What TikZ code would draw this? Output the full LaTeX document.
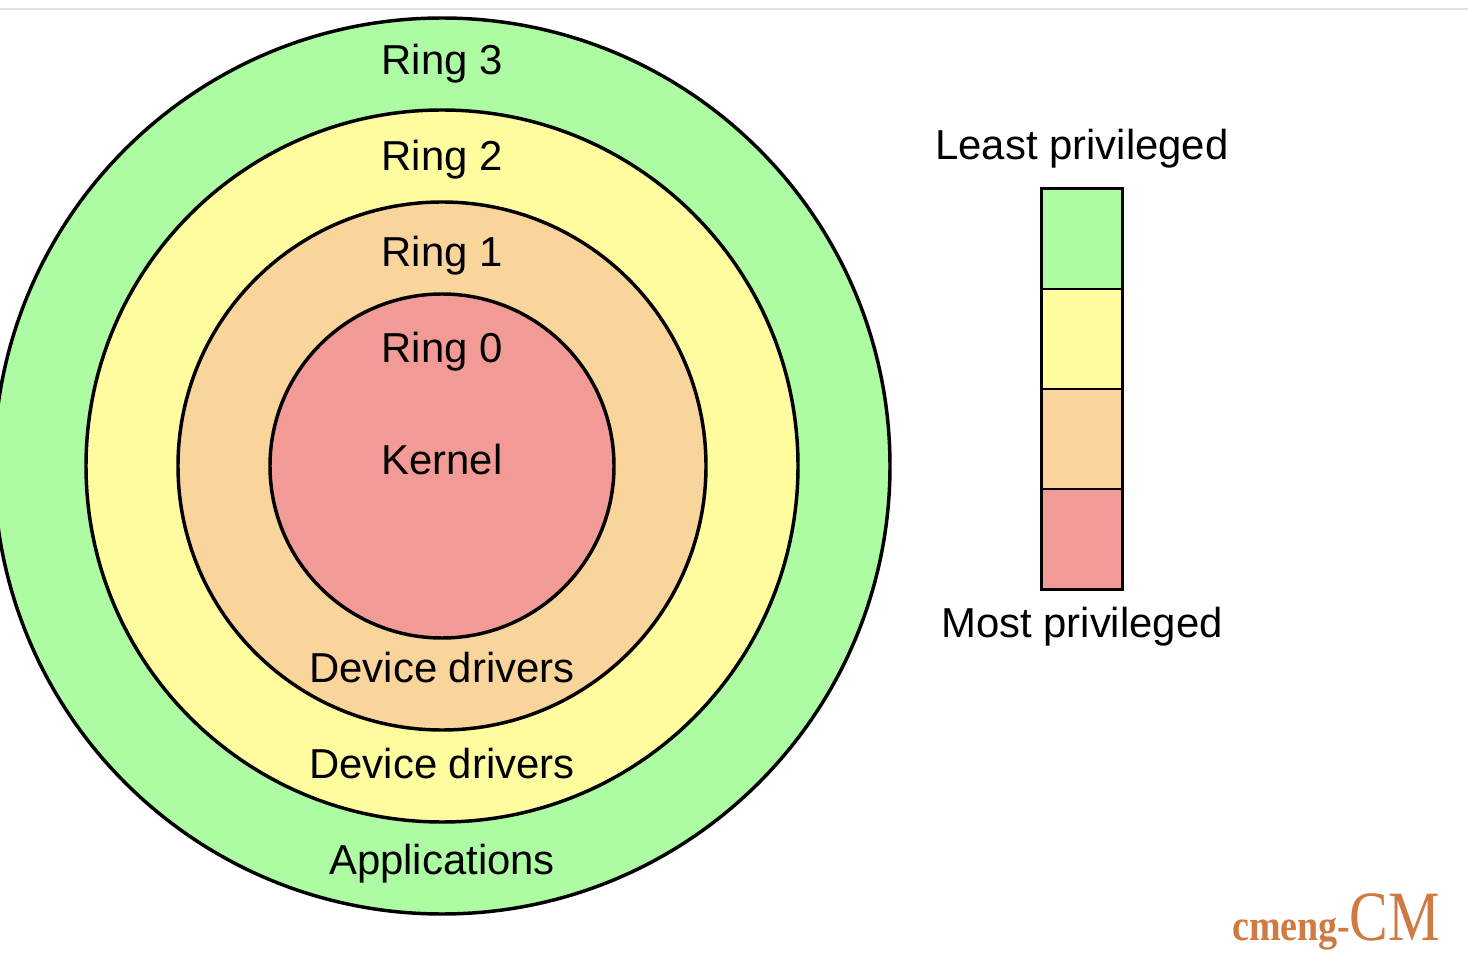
\documentclass[tikz,border=0pt]{standalone}
\usepackage{fontspec}
\setmainfont{Liberation Sans}
\newfontfamily\markfont{Liberation Serif}
\usepackage{tikz}
\definecolor{ringgreen}{HTML}{ADFBA2}
\definecolor{ringyellow}{HTML}{FFFB9F}
\definecolor{ringorange}{HTML}{F9D49B}
\definecolor{ringred}{HTML}{F29A96}
\definecolor{markorange}{HTML}{CF7A42}
\definecolor{rulegray}{HTML}{E2E2E2}
\tikzset{
  ringcircle/.style={circle,draw=black,line width=2.6pt,inner sep=0pt},
  ringlabel/.style={font=\fontsize{31.4}{36}\selectfont,inner sep=0pt,text=black},
  legendcell/.style={draw=black,line width=1.5pt,inner sep=0pt,minimum width=60pt,minimum height=75pt},
  marktext/.style={text=markorange,inner sep=0pt},
}
\begin{document}
\begin{tikzpicture}[x=.75pt,y=-.75pt]
\useasboundingbox (0,0) rectangle (1468,962);
\coordinate (ruleleft) at (0,9);
\coordinate (ruleright) at (1468,9);
\draw[rulegray,line width=1.5pt] (ruleleft) -- (ruleright);
\foreach \name/\r/\c in {three/448/ringgreen,two/356/ringyellow,one/264/ringorange,zero/172/ringred}
  \node[ringcircle,fill=\c,minimum size={\r*1.5pt}] (ring\name) at (442,466) {};
\foreach \name/\y/\t in {rthree/64/Ring 3,rtwo/160/Ring 2,rone/256/Ring 1,rzero/352/Ring 0,kernel/460/Kernel,drvone/668/Device drivers,drvtwo/764/Device drivers,apps/864/Applications}
  \node[ringlabel] (\name) at (442,\y) {\t};
\foreach \name/\y/\c in {green/239/ringgreen,yellow/339/ringyellow,orange/439/ringorange,red/539/ringred}
  \node[legendcell,fill=\c] (cell\name) at (1082,\y) {};
\draw[line width=2pt] (cellgreen.north west) rectangle (cellred.south east);
\node[ringlabel] (least) at (1082,149) {Least privileged};
\node[ringlabel] (most) at (1082,627) {Most privileged};
\node[marktext,font=\markfont\bfseries\fontsize{28.5}{30}\selectfont,anchor=base west] (markleft) at (1232,940) {\scalebox{1}[1.15]{cmeng-}};
\node[marktext,font=\markfont\fontsize{43.5}{46}\selectfont,anchor=base east] (markright) at (1440,940) {\scalebox{1}[1.22]{CM}};
\end{tikzpicture}
\end{document}
